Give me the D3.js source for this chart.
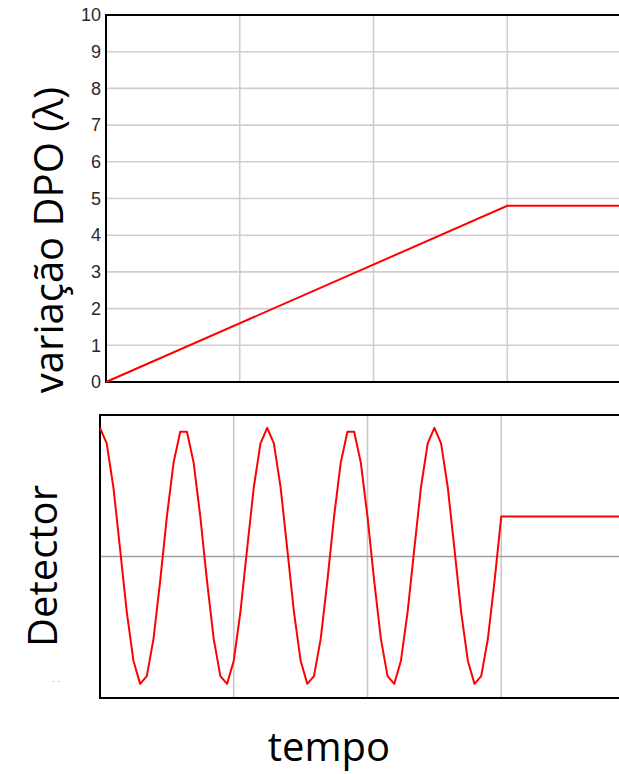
<!DOCTYPE html>
<html>
<head>
<meta charset="utf-8">
<script src="https://cdn.jsdelivr.net/npm/d3@7"></script>
<style>
  html, body { margin:0; padding:0; background:#fff; }
  svg { display:block; }
  .lbl { font-family:"Open Sans", sans-serif; fill:#000; }
</style>
</head>
<body>
<div id="chart"></div>
<script>
// top panel: path difference vs time
const dpoTime = [0, 3, 4];
const dpoValue = [0, 4.8, 4.8];
const dpoTicks = [0,1,2,3,4,5,6,7,8,9,10];
const timeGrid = [1, 2, 3];

// bottom panel: detector signal, sampled every 0.05 time units up to t=3, then flat
const detStep = 0.05;
const detValue = [
  1.00, 0.88, 0.54, 0.06, -0.43, -0.81, -0.99, -0.93, -0.64, -0.19,
  0.31, 0.73, 0.97, 0.97, 0.73, 0.31, -0.19, -0.64, -0.93, -0.99,
  -0.81, -0.43, 0.06, 0.54, 0.88, 1.00, 0.88, 0.54, 0.06, -0.43,
  -0.81, -0.99, -0.93, -0.64, -0.19, 0.31, 0.73, 0.97, 0.97, 0.73,
  0.31, -0.19, -0.64, -0.93, -0.99, -0.81, -0.43, 0.06, 0.54, 0.88,
  1.00, 0.88, 0.54, 0.06, -0.43, -0.81, -0.99, -0.93, -0.64, -0.19,
  0.31
];
const detTail = [[4, 0.31]];

const W = 619, H = 774;
const svg = d3.select('#chart').append('svg').attr('width', W).attr('height', H);

// ---- top panel
const x1 = d3.scaleLinear().domain([0, 4]).range([106, 641]);
const y1 = d3.scaleLinear().domain([0, 10]).range([382, 15]);
const gTop = svg.append('g');

gTop.selectAll('line.hg').data(dpoTicks.slice(1, -1)).join('line')
  .attr('x1', x1(0)).attr('x2', W).attr('y1', d => y1(d)).attr('y2', d => y1(d))
  .attr('stroke', '#cfcfcf').attr('stroke-width', 1.6);
gTop.selectAll('line.vg').data(timeGrid).join('line')
  .attr('x1', d => x1(d)).attr('x2', d => x1(d)).attr('y1', y1(10)).attr('y2', y1(0))
  .attr('stroke', '#cfcfcf').attr('stroke-width', 1.6);

// frame
gTop.append('path')
  .attr('d', `M${W},${y1(10)}H${x1(0)}V${y1(0)}H${W}`)
  .attr('fill', 'none').attr('stroke', '#000').attr('stroke-width', 2);

const ax = gTop.append('g').attr('transform', `translate(${x1(0) - 5},0)`)
  .call(d3.axisLeft(y1).tickValues(dpoTicks).tickSize(0).tickPadding(0).tickFormat(d3.format('d')));
ax.select('.domain').remove();
ax.selectAll('.tick text')
  .attr('font-family', '"Liberation Sans", sans-serif')
  .attr('font-size', 18).attr('fill', '#2a2a2a');

gTop.append('path')
  .datum(dpoTime.map((t, i) => [t, dpoValue[i]]))
  .attr('d', d3.line().x(d => x1(d[0])).y(d => y1(d[1])))
  .attr('fill', 'none').attr('stroke', '#ff0000').attr('stroke-width', 2);

// ---- bottom panel
const x2 = d3.scaleLinear().domain([0, 4]).range([100, 635]);
const y2 = d3.scaleLinear().domain([-1.1, 1.1]).range([698, 415]);
const gBot = svg.append('g');

gBot.selectAll('line.vg').data(timeGrid).join('line')
  .attr('x1', d => x2(d)).attr('x2', d => x2(d)).attr('y1', y2(1.1)).attr('y2', y2(-1.1))
  .attr('stroke', '#c8c8c8').attr('stroke-width', 1.6);
gBot.append('line')
  .attr('x1', x2(0)).attr('x2', W).attr('y1', y2(0)).attr('y2', y2(0))
  .attr('stroke', '#a0a0a0').attr('stroke-width', 1.6);

gBot.append('path')
  .attr('d', `M${W},${y2(1.1)}H${x2(0)}V${y2(-1.1)}H${W}`)
  .attr('fill', 'none').attr('stroke', '#000').attr('stroke-width', 2);

const detPts = detValue.map((v, i) => [i * detStep, v]).concat(detTail);
gBot.append('path')
  .datum(detPts)
  .attr('d', d3.line().x(d => x2(d[0])).y(d => y2(d[1])))
  .attr('fill', 'none').attr('stroke', '#ff0000').attr('stroke-width', 2)
  .attr('stroke-linejoin', 'round');

// ---- labels
svg.append('text').attr('class', 'lbl')
  .attr('transform', 'translate(63,240) rotate(-90)')
  .attr('text-anchor', 'middle').attr('font-size', 40)
  .text('variação DPO (λ)');

svg.append('text').attr('class', 'lbl')
  .attr('transform', 'translate(57,566) rotate(-90)')
  .attr('text-anchor', 'middle').attr('font-size', 40)
  .text('Detector');

svg.append('text').attr('class', 'lbl')
  .attr('x', 329).attr('y', 761)
  .attr('text-anchor', 'middle').attr('font-size', 40)
  .text('tempo');

svg.append('text')
  .attr('x', 52).attr('y', 684)
  .attr('font-family', 'DejaVu Sans').attr('font-size', 8).attr('fill', '#bbb')
  .text('- -');
</script>
</body>
</html>
